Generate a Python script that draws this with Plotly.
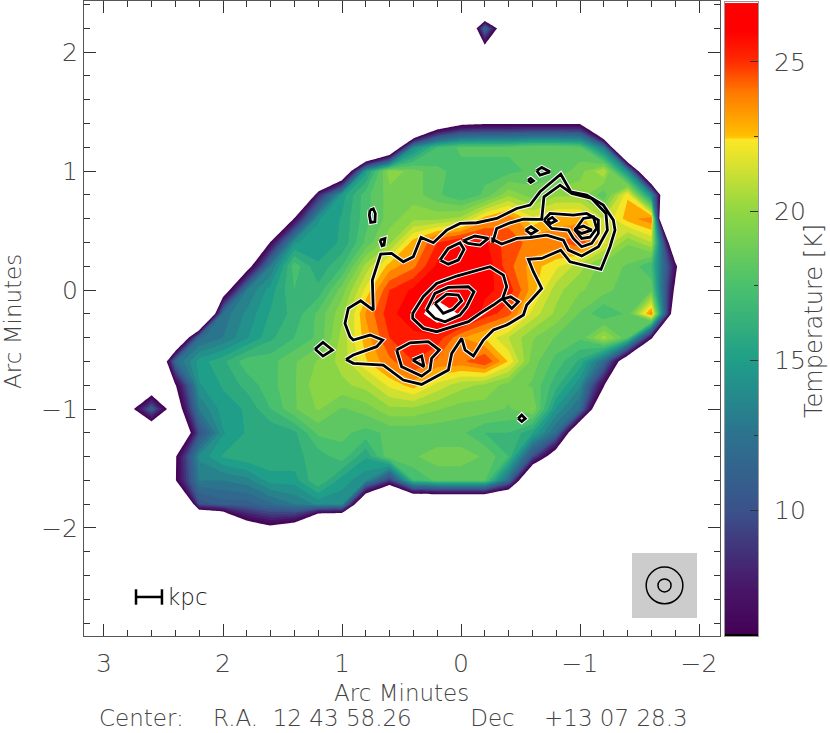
import numpy as np
import plotly.graph_objects as go

o = -8  # outside the mapped region

x_grid = [2.8, 2.6, 2.4, 2.2, 2.0, 1.8, 1.6, 1.4, 1.2, 1.0, 0.8, 0.6, 0.4, 0.2, 0.0,
          -0.2, -0.4, -0.6, -0.8, -1.0, -1.2, -1.4, -1.6, -1.8, -2.0]
y_grid = [2.4, 2.2, 2.0, 1.8, 1.6, 1.4, 1.2, 1.0, 0.8, 0.6, 0.4, 0.2, 0.0, -0.2, -0.4, -0.6,
          -0.8, -1.0, -1.2, -1.4, -1.6, -1.8, -2.0, -2.2]

# temperature [K]
temp_rows = [
    [o, o, o, o, o, o, o, o, o, o, o, o, o, o, o, o, o, o, o, o, o, o, o, o, o],
    [o, o, o, o, o, o, o, o, o, o, o, o, o, o, -6, 12, 0, o, o, o, o, o, o, o, o],
    [o, o, o, o, o, o, o, o, o, o, o, o, o, o, o, 3, o, o, o, o, o, o, o, o, o],
    [o, o, o, o, o, o, o, o, o, o, o, o, o, o, o, o, o, o, o, o, o, o, o, o, o],
    [o, o, o, o, o, o, o, o, o, o, o, o, o, o, o, o, o, o, o, o, o, o, o, o, o],
    [o, o, o, o, o, o, o, o, o, o, o, o, o, 2, 5, 5.5, 5.5, 5.5, 5.5, 5.5, o, o, o, o, o],
    [o, o, o, o, o, o, o, o, o, o, o, -1, 14, 17, 18, 18, 18, 18.5, 18.5, 18, 13, o, o, o, o],
    [o, o, o, o, o, o, o, o, o, 0, 15, 20, 19, 18, 17.5, 17.5, 17.5, 18, 18, 19, 21, 14, -4, o, o],
    [o, o, o, o, o, o, o, o, 8, 15, 17.5, 19, 19, 18, 17, 18, 20, 19, 20, 20, 18, 22.5, 14, o, o],
    [o, o, o, o, o, o, o, 6.2, 14.5, 15.5, 17.5, 19, 20, 20, 20.5, 23, 24, 22, 23, 23, 21, 23, 24, -30, o],
    [o, o, o, o, o, o, 6.2, 14.5, 15, 15.5, 18, 20, 23, 25, 26, 26, 24.5, 24, 24, 25, 22, 19.5, 21, 0, o],
    [o, o, o, o, o, 4, 13, 17.5, 15.5, 17, 20.5, 23, 24, 26, 26.5, 26.5, 24.5, 23, 22, 20.5, 19, 18.5, 17, 7, o],
    [o, o, o, o, 3, 13, 15, 17, 16.5, 19, 22, 25, 26, 26.5, 26.5, 26, 25.5, 23, 20.5, 19.5, 19, 18, 18.5, 5, o],
    [o, o, o, o, 12.5, 14, 15.5, 16.5, 18, 20, 23.5, 25.5, 26.5, 28.6, 27.2, 25.5, 24.5, 21.5, 20, 18.5, 17, 18, 24, 2, o],
    [o, o, -2, 12, 13, 14.5, 16, 17, 18, 20.5, 23, 25, 25.5, 25.5, 23.5, 22.5, 21, 19.5, 18.5, 18, 20.5, 18, 6.5, o, o],
    [o, -5, 12, 15, 16, 17.5, 17.5, 18.5, 19.5, 20.5, 22.5, 24, 25, 24, 24, 25, 22.5, 19, 17.5, 16, 12, 2, o, o, o],
    [o, 2, 5.6, 14.5, 15.5, 16.5, 17.5, 18.5, 20, 20, 20.5, 22, 23, 21.5, 20.5, 20, 19, 18.5, 16.5, 14, 6.2, o, o, o, o],
    [4, 11, 3, 13, 15, 15.5, 17, 18.5, 19.5, 18.5, 19, 20, 20, 19.5, 19, 19, 18.5, 19.5, 14.5, 12, 0, o, o, o, o],
    [o, 1, -2, 10, 14.5, 15.5, 15.5, 16, 18, 18, 17.5, 18, 18, 18, 18, 17, 17, 15.5, 12, 0, o, o, o, o, o],
    [o, o, 5.5, 14, 15.5, 16, 16, 16, 16.5, 17.5, 15.5, 18.5, 18.5, 19, 19, 18.5, 17, 10, 3, o, o, o, o, o, o],
    [o, o, 5.6, 13, 13, 13.5, 15, 15, 17, 15, 14, 9, 17, 18, 18, 18, 12, -2, o, o, o, o, o, o, o],
    [o, o, o, 10, 11, 11, 12, 13, 14, 14, -1, o, -3, -3, -3, -3, -4, o, o, o, o, o, o, o, o],
    [o, o, o, o, -6, 3.5, 5.1, 3.7, -7, o, o, o, o, o, o, o, o, o, o, o, o, o, o, o, o],
    [o, o, o, o, o, o, o, o, o, o, o, o, o, o, o, o, o, o, o, o, o, o, o, o, o],
]

# intensity isolines overlaid on the map, arc minutes, None between rings
iso_x = [
    .966, .905, .709, .658, .765, .905, .933, .975, .947, .843, .737, .745, .675, .583, .485, .401, .336, .232,
    .120, .008, -.132, -.300, -.468, -.580, -.664, -.838, -.922, -1.056, -1.196, -1.280, -1.294, -1.252, -1.176,
    -1.028, -.916, -.838, -.678, -.566, -.608, -.678, -.552, -.524, -.384, -.272, -.188, -.104, -.034, -.006,
    .078, .106, .331, .485, .653, .905, .966, None,
    .406, .317, .205, .037, -.244, -.356, -.384, -.350, -.272, -.160, -.062, .079, .205, .317, .406, .406, None,
    .289, .219, .107, -.062, -.109, -.047, .009, .135, .219, .289, None,
    .219, .121, .023, -.005, .065, .149, .219, None,
    .541, .429, .275, .182, .247, .261, .331, .499, .541, None,
    .406, .331, .311, .406, None,
    -.350, -.417, -.482, -.426, -.350, None,
    .177, .107, .009, -.025, .023, .107, .177, None,
    -.019, -.117, -.229, -.159, -.061, -.019, None,
    -.266, -.300, -.398, -.524, -.678, -.697, -.832, -.930, -1.098, -1.218, -1.230, -1.154, -1.014, -.902, -.860,
    -.720, -.580, -.468, -.342, -.266, -.266, None,
    -.697, -.748, -.944, -1.056, -1.154, -1.154, -1.098, -1.014, -.944, -.902, -.762, -.697, None,
    -.958, -1.028, -1.112, -1.140, -1.084, -1.014, -.958, None,
    -.952, -1.028, -1.098, -1.014, -.952, None,
    -.725, -.767, -.798, -.753, -.725, None,
    -.543, -.588, -.636, -.588, -.543, None,
    -.636, -.678, -.748, -.664, -.636, None,
    -.563, -.585, -.608, -.585, -.563, None,
    .765, .737, .720, .723, .759, .770, .765, None,
    .681, .639, .647, .664, .681, None,
    1.227, 1.16, 1.08, 1.16, 1.227, None,
    -.48, -.51, -.54, -.51, -.48,
]
iso_y = [
    -.583, -.546, -.476, -.420, -.378, -.420, -.392, -.280, -.154, -.090, -.168, .084, .303, .308, .238, .280, .443,
    .398, .504, .560, .566, .602, .686, .714, .826, .975, .826, .798, .714, .588, .504, .364, .174, .210, .238, .336,
    .266, .258, .154, .014, -.126, -.210, -.294, -.336, -.420, -.554, -.504, -.406, -.532, -.672, -.793, -.756,
    -.630, -.616, -.583, None,
    -.196, -.056, .056, .118, .196, .126, .028, -.070, -.126, -.196, -.266, -.308, -.350, -.322, -.238, -.196, None,
    -.168, -.028, .022, .028, -.014, -.140, -.210, -.266, -.238, -.168, None,
    -.112, -.034, -.042, -.090, -.162, -.196, -.112, None,
    -.504, -.443, -.434, -.504, -.574, -.672, -.723, -.644, -.504, None,
    -.588, -.555, -.644, -.588, None,
    -.076, -.056, -.098, -.154, -.076, None,
    .252, .350, .398, .342, .252, .218, .252, None,
    .414, .454, .434, .378, .392, .414, None,
    .398, .518, .560, .597, .594, .784, .882, .812, .770, .644, .504, .364, .286, .336, .420, .462, .442, .434, .387,
    .426, .398, None,
    .588, .644, .630, .644, .588, .476, .392, .364, .434, .504, .518, .588, None,
    .504, .602, .616, .518, .444, .434, .504, None,
    .510, .538, .504, .476, .510, None,
    .588, .611, .583, .560, .588, None,
    .504, .532, .499, .471, .504, None,
    1.003, 1.031, .994, .966, 1.003, None,
    .924, .938, .919, .905, .924, None,
    .672, .683, .644, .574, .568, .630, .672, None,
    .420, .434, .378, .372, .420, None,
    -.496, -.44, -.504, -.555, -.496, None,
    -1.08, -1.05, -1.08, -1.105, -1.08,
]

scale_x = [2.731, 2.513]
scale_y = [-2.58, -2.58]

# colour table of the temperature scale
temp_stops = [5.9, 7.5, 10, 12.5, 15, 17.5, 20, 22.4, 22.5, 24, 25, 26, 27.2, 27.3]
temp_colors = ['#440154', '#48186a', '#3b528b', '#2c728e', '#1f9e89', '#4ac16d', '#90d743', '#fde725',
               '#ffc000', '#ff7800', '#ff2c00', '#ff0000', '#ff0000', '#ffffff']

FONT = 'DejaVu Sans'
TXT = '#444444'
LEV_START, LEV_END, LEV_SIZE = 5.8, 27.45, 0.8
LOW, HIGH = LEV_START - LEV_SIZE / 2, 27.8

# contour fill: the colorscale runs over the levels, the bottom stays see-through
scale = [[0, 'rgba(0,0,0,0)'], [(5.85 - LOW) / (HIGH - LOW), 'rgba(0,0,0,0)']]
for v, c in zip(temp_stops, temp_colors):
    scale.append([(v - LOW) / (HIGH - LOW), c])
scale.append([1, '#ffffff'])

CB_MIN, CB_MAX = 5.79, 26.97
bar_scale = [[0, '#000000'], [0.003, '#000000'], [0.004, temp_colors[0]]]
for v, c in zip(temp_stops[1:-2], temp_colors[1:-2]):
    bar_scale.append([(v - CB_MIN) / (CB_MAX - CB_MIN), c])
bar_scale.append([1, '#ff0000'])
bar_values = np.arange(CB_MIN, CB_MAX, 0.05)

fig = go.Figure()

fig.add_trace(go.Contour(x=x_grid, y=y_grid, z=temp_rows, colorscale=scale, showscale=False, hoverinfo='skip',
                         autocontour=False, zmin=LOW, zmax=HIGH,
                         contours=dict(start=LEV_START, end=LEV_END, size=LEV_SIZE, coloring='fill', showlines=False),
                         line=dict(width=0, smoothing=0)))
fig.add_trace(go.Scatter(x=iso_x, y=iso_y, mode='lines', line=dict(color='white', width=4.8), hoverinfo='skip'))
fig.add_trace(go.Scatter(x=iso_x, y=iso_y, mode='lines', line=dict(color='black', width=2.8), hoverinfo='skip'))
fig.add_trace(go.Scatter(x=scale_x, y=scale_y, mode='lines+markers', line=dict(color='black', width=2.5),
                         marker=dict(symbol='line-ns', size=11, line=dict(color='black', width=2.5))))
fig.add_trace(go.Heatmap(x=[0], y=bar_values, z=[[v] for v in bar_values], colorscale=bar_scale, zmin=CB_MIN, zmax=CB_MAX,
                         showscale=False, xaxis='x2', yaxis='y2', hoverinfo='skip'))

W, H = 830, 733
axis_font = dict(family=FONT, size=25, color=TXT, weight=200)
title_font = dict(family=FONT, size=23, color=TXT, weight=200)
common = dict(showgrid=False, zeroline=False, showline=True, linecolor='#555555', linewidth=1, mirror='ticks',
              ticks='inside', ticklen=12, tickwidth=1, tickcolor='#333333', tickfont=axis_font, dtick=1,
              minor=dict(dtick=0.2, ticks='inside', ticklen=6, tickwidth=1, tickcolor='#333333', showgrid=False))
beam_x, beam_y = -1.710, -2.483
fig.update_layout(
    width=W, height=H, margin=dict(l=0, r=0, t=0, b=0), showlegend=False,
    paper_bgcolor='white', plot_bgcolor='white',
    xaxis=dict(domain=[84 / W, 719.5 / W], range=[3.168, -2.172], tick0=0, ticklabelstandoff=5, **common),
    yaxis=dict(domain=[(H - 636) / H, (H - 1) / H], range=[-2.908, 2.43], tick0=0, **common),
    xaxis2=dict(domain=[725 / W, 758 / W], range=[-0.5, 0.5], anchor='y2', showticklabels=False, ticks='',
                showgrid=False, zeroline=False, showline=True, linecolor='#999999', mirror=True),
    yaxis2=dict(domain=[(H - 636) / H, (H - 2) / H], range=[CB_MIN, 27.0], anchor='x2', side='right', showgrid=False,
                zeroline=False, showline=True, linecolor='#999999', mirror=True, ticks='inside', ticklen=8,
                tickcolor='#333333', tickvals=[10, 15, 20, 25], tickfont=axis_font, ticklabelstandoff=10,
                minor=dict(tickvals=[7.5, 12.5, 17.5, 22.5], ticks='inside', ticklen=4, tickcolor='#333333')),
    # beam inset
    shapes=[
        dict(type='rect', xref='x', yref='y', x0=beam_x + 0.273, x1=beam_x - 0.273, y0=beam_y + 0.273, y1=beam_y - 0.273,
             fillcolor='#cccccc', line=dict(width=0)),
        dict(type='circle', xref='x', yref='y', x0=beam_x + 0.154, x1=beam_x - 0.154, y0=beam_y - 0.154,
             y1=beam_y + 0.154, line=dict(color='black', width=1.5)),
        dict(type='circle', xref='x', yref='y', x0=beam_x + 0.055, x1=beam_x - 0.055, y0=beam_y - 0.055,
             y1=beam_y + 0.055, line=dict(color='black', width=1.5)),
    ],
    annotations=[
        dict(text='kpc', xref='x', yref='y', x=2.49, y=-2.58, xanchor='left', yanchor='middle', showarrow=False,
             font=dict(family=FONT, size=23, color='#222222', weight=200)),
        dict(text='Arc Minutes', xref='paper', yref='paper', x=401 / W, y=1 - 693 / H, xanchor='center',
             yanchor='middle', showarrow=False, font=title_font),
        dict(text='Arc Minutes', xref='paper', yref='paper', x=13 / W, y=1 - 322 / H, xanchor='center',
             yanchor='middle', textangle=-90, showarrow=False, font=title_font),
        dict(text='Temperature [K]', xref='paper', yref='paper', x=814 / W, y=1 - 321 / H, xanchor='center',
             yanchor='middle', textangle=-90, showarrow=False, font=dict(family=FONT, size=24, color=TXT, weight=200)),
        dict(text='Center:\u00a0\u00a0\u00a0\u00a0R.A.\u00a0\u00a012\u00a043\u00a058.26\u00a0\u00a0\u00a0\u00a0\u00a0\u00a0\u00a0\u00a0Dec\u00a0\u00a0\u00a0\u00a0+13\u00a007\u00a028.3',
             xref='paper', yref='paper', x=97 / W, xanchor='left', y=1 - 718 / H, yanchor='middle', showarrow=False,
             font=title_font),
    ],
)

fig.write_html("out.html", post_script="document.body.style.margin='0';", config=dict(displayModeBar=False))
